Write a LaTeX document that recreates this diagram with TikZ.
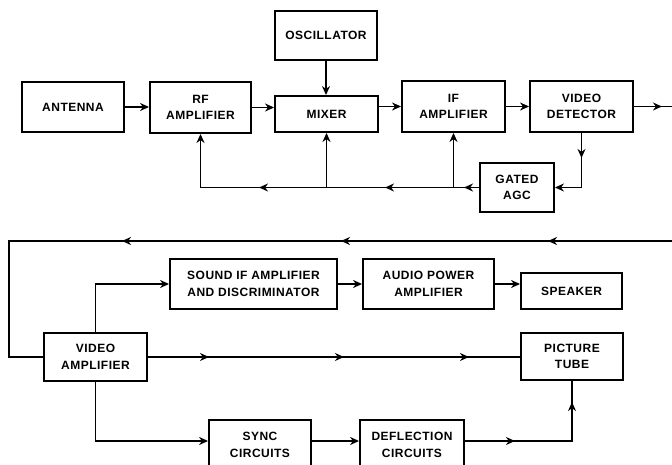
\documentclass[tikz,border=0pt]{standalone}
\usepackage{fontspec}
\setmainfont[LetterSpace=4]{Liberation Sans}
\usetikzlibrary{arrows.meta,decorations.markings}
\newcommand{\myarr}{\arrow{Stealth[length=9pt,width=8pt]}}
\tikzset{
  blk/.style={draw, line width=1.9pt, align=center, inner sep=0pt,
    font=\bfseries\fontsize{12}{16.5}\selectfont},
  conn/.style={line width=1.6pt},
  endtip/.style={-{Stealth[length=9pt,width=8pt]}},
  mk/.style={postaction={decorate}, decoration={markings, #1}}
}
\begin{document}
\begin{tikzpicture}[x=1pt,y=-1pt]
\useasboundingbox (0,0) rectangle (672,465);
\clip (0,0) rectangle (672,465);
% nodes
\node[blk, minimum width=102pt, minimum height=49pt] (osc) at (326,35.5) {OSCILLATOR};
\node[blk, minimum width=102pt, minimum height=50pt] (ant) at (73,107) {ANTENNA};
\node[blk, minimum width=101pt, minimum height=51pt] (rf) at (200.5,107.5) {RF\\AMPLIFIER};
\node[blk, minimum width=103pt, minimum height=36pt] (mix) at (326.5,114) {MIXER};
\node[blk, minimum width=103pt, minimum height=51pt] (ifa) at (453.5,106.5) {IF\\AMPLIFIER};
\node[blk, minimum width=103pt, minimum height=51pt] (vdet) at (581.5,106.5) {VIDEO\\DETECTOR};
\node[blk, minimum width=74pt, minimum height=49pt] (agc) at (517,187.5) {GATED\\AGC};
\node[blk, minimum width=103pt, minimum height=48pt] (vamp) at (95.5,357) {VIDEO\\AMPLIFIER};
\node[blk, minimum width=167pt, minimum height=50pt] (sound) at (253.5,284) {SOUND IF AMPLIFIER\\AND DISCRIMINATOR};
\node[blk, minimum width=131pt, minimum height=50pt] (audio) at (428.5,284) {AUDIO POWER\\AMPLIFIER};
\node[blk, minimum width=101pt, minimum height=36pt] (spk) at (571.5,291) {SPEAKER};
\node[blk, minimum width=102pt, minimum height=47pt] (tube) at (572,356.5) {PICTURE\\TUBE};
\node[blk, minimum width=102pt, minimum height=50pt] (sync) at (260,445) {SYNC\\CIRCUITS};
\node[blk, minimum width=104pt, minimum height=50pt] (defl) at (412,445) {DEFLECTION\\CIRCUITS};
\coordinate (rout) at (672,106.5);
\coordinate (fin) at (672,241);
\coordinate (fc) at (9,241);
% top chain
\draw[conn, endtip] (ant.east) -- (ant.east -| rf.west);
\draw[conn, endtip] (rf.east) -- (rf.east -| mix.west);
\draw[conn, endtip] (mix.east |- ifa.west) -- (ifa.west);
\draw[conn, endtip] (ifa.east) -- (vdet.west);
\draw[conn, mk={mark=at position 28pt with {\myarr}}] (vdet.east) -- (rout);
\draw[conn, endtip] (osc.south) -- (osc.south |- mix.north);
% AGC loop
\draw[conn, endtip, mk={mark=at position 25pt with {\myarr}}]
  (vdet.south) -- (vdet.south |- agc.east) -- (agc.east);
\draw[conn, endtip, mk={mark=at position 15pt with {\myarr}, mark=at position 94pt with {\myarr}, mark=at position 220pt with {\myarr}}]
  (agc.west) -- (rf.south |- agc.west) -- (rf.south);
\draw[conn, endtip] (ifa.south |- agc.west) -- (ifa.south);
\draw[conn, endtip] (mix.south |- agc.west) -- (mix.south);
% bottom
\draw[conn, mk={mark=at position 124pt with {\myarr}, mark=at position 331pt with {\myarr}, mark=at position 550pt with {\myarr}}]
  (fin) -- (fc) -- (fc |- vamp.west) -- (vamp.west);
\draw[conn, endtip] (vamp.north) |- (sound.west);
\draw[conn, endtip] (sound.east) -- (audio.west);
\draw[conn, endtip] (audio.east) -- (audio.east -| spk.west);
\draw[conn, mk={mark=at position 61pt with {\myarr}, mark=at position 196pt with {\myarr}, mark=at position 321pt with {\myarr}}]
  (vamp.east) -- (vamp.east -| tube.west);
\draw[conn, endtip] (vamp.south) |- ([yshift=4pt]sync.west);
\draw[conn, endtip] ([yshift=4pt]sync.east) -- ([yshift=4pt]defl.west);
\draw[conn, mk={mark=at position 50pt with {\myarr}, mark=at position 146pt with {\myarr}}]
  ([yshift=4pt]defl.east) -| (tube.south);
\end{tikzpicture}
\end{document}
